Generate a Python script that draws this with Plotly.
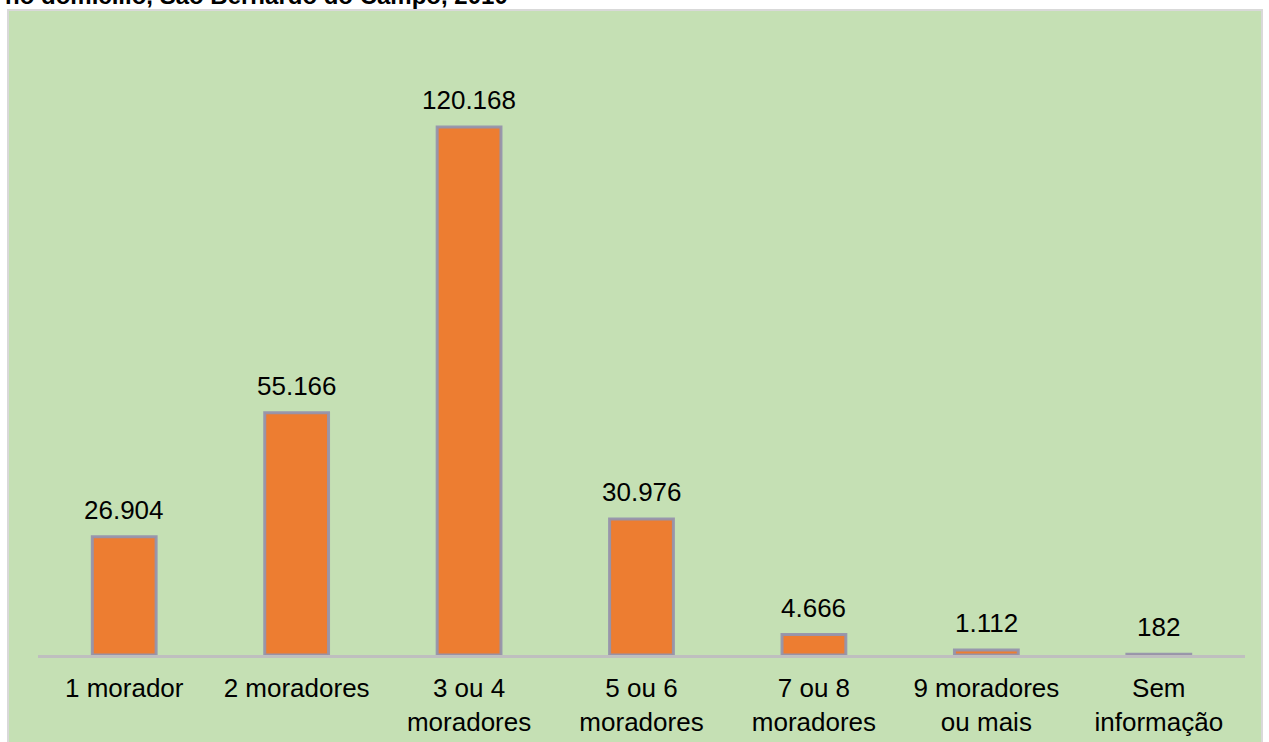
import plotly.graph_objects as go

categories = ["1 morador", "2 moradores", "3 ou 4<br>moradores", "5 ou 6<br>moradores",
              "7 ou 8<br>moradores", "9 moradores<br>ou mais", "Sem<br>informação"]
values = [26904, 55166, 120168, 30976, 4666, 1112, 182]
value_labels = ["26.904", "55.166", "120.168", "30.976", "4.666", "1.112", "182"]
title_text = "no domicílio, São Bernardo do Campo, 2010"

W, H = 1269, 742
L, R, T, B = 38, 24, 40, 87
pw, ph = W - L - R, H - T - B

def px_x(px):
    return (px - L) / pw

def px_y(py):
    return (H - B - py) / ph

font = "Liberation Sans, Arial, sans-serif"

fig = go.Figure()
fig.add_trace(go.Bar(
    x=categories, y=values,
    marker=dict(color="#ED7D31", line=dict(color="rgba(150,148,172,0.95)", width=3)),
    hoverinfo="skip",
))

annotations = []
for c, v, t in zip(categories, values, value_labels):
    annotations.append(dict(x=c, y=v, xref="x", yref="y", text=t, showarrow=False,
                            yanchor="bottom", yshift=10,
                            font=dict(family=font, size=26, color="#000000")))
annotations.append(dict(x=px_x(3), y=px_y(11), xref="paper", yref="paper", text="<b>" + title_text + "</b>",
                        showarrow=False, xanchor="left", yanchor="bottom",
                        font=dict(family=font, size=24, color="#000000")))

fig.update_layout(
    width=W, height=H,
    margin=dict(l=L, r=R, t=T, b=B, autoexpand=False),
    paper_bgcolor="#FFFFFF",
    plot_bgcolor="rgba(0,0,0,0)",
    bargap=0.63,
    showlegend=False,
    annotations=annotations,
    shapes=[dict(type="rect", xref="paper", yref="paper", layer="below",
                 x0=px_x(8), x1=px_x(1262), y0=px_y(790), y1=px_y(10),
                 fillcolor="#C5E0B4", line=dict(color="#D9D9D9", width=2))],
    xaxis=dict(showline=True, linecolor="#BFBFBF", linewidth=3, showgrid=False, ticks="",
               ticklabelstandoff=8, automargin=False,
               tickfont=dict(family=font, size=26, color="#000000"), zeroline=False),
    yaxis=dict(range=[0, 140000], visible=False, showgrid=False, zeroline=False, automargin=False),
)

fig.write_html("out.html", config={"displayModeBar": False},
               post_script="document.body.style.margin='0';document.body.style.overflow='hidden';")
